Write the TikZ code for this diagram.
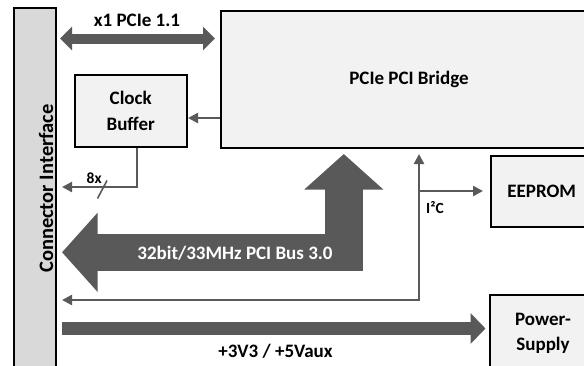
\documentclass[tikz,border=0pt]{standalone}
\usepackage{fontspec}
\setmainfont{Carlito}
\usetikzlibrary{arrows.meta,calc}
\definecolor{arrowgray}{HTML}{595959}
\definecolor{boxfill}{HTML}{F2F2F2}
\definecolor{barfill}{HTML}{D9D9D9}
\begin{document}
\begin{tikzpicture}[x=1pt,y=-1pt,
  every node/.style={font=\bfseries\fontsize{19}{23}\selectfont, inner sep=0pt},
  blockbox/.style={draw=black, line width=2pt, fill=boxfill, align=center},
  barbox/.style={draw=black, line width=2pt, fill=barfill},
  smalllabel/.style={font=\bfseries\fontsize{15.5}{18}\selectfont},
  thinarrow/.style={draw=arrowgray, line width=2.2pt, {Triangle[length=10pt,width=10pt]}-{Triangle[length=10pt,width=10pt]}},
  onearrow/.style={draw=arrowgray, line width=2.2pt, -{Triangle[length=10pt,width=10pt]}},
  pciearrow/.style={draw=arrowgray, line width=10pt, {Triangle[length=12pt,width=23pt]}-{Triangle[length=12pt,width=23pt]}},
  busarrow/.style={draw=arrowgray, line width=37.5pt, line join=miter, {Triangle[length=35.5pt,width=77pt]}-{Triangle[length=35.5pt,width=77pt]}},
  pwrarrow/.style={draw=arrowgray, line width=13.5pt, -{Triangle[length=15pt,width=30pt]}}
]
\useasboundingbox (0,0) rectangle (584,365);
\clip (0,0) rectangle (584,365);

% blocks
\node[barbox, minimum width=42pt, minimum height=364pt] (bar) at (35,190) {};
\node[font=\bfseries\fontsize{20.5}{24}\selectfont, rotate=90, anchor=base] (bartext) at (53,188.5) {Connector Interface};
\node[blockbox, minimum width=377pt, minimum height=137.3pt] (bridge) at (409,79.35) {PCIe PCI Bridge};
\node[blockbox, minimum width=112.5pt, minimum height=72pt, font=\bfseries\fontsize{19}{26.5}\selectfont] (clock) at (130.75,111) {Clock\\Buffer};
\node[blockbox, minimum width=102.5pt, minimum height=71.5pt] (eeprom) at (541.75,191.25) {EEPROM};
\node[blockbox, minimum width=107pt, minimum height=77.5pt, font=\bfseries\fontsize{19}{25}\selectfont] (power) at (543,333.25) {Power-\\Supply};

% PCIe link
\draw[pciearrow] ($(bar.east |- 0,38.5)+(3,0)$) -- ($(bridge.west |- 0,38.5)+(-4.5,0)$);
\node[anchor=base] (pcielabel) at (137,26) {x1 PCIe 1.1};

% clock
\draw[onearrow] (bridge.west |- 0,118) -- (clock.east |- 0,118);
\draw[onearrow] ($(clock.south)+(6.25,0)$) -- ($(clock.south)+(6.25,39)$) -- ($(bar.east |- 0,187)+(5,0)$);
\draw[arrowgray, line width=1.6pt] (97.5,198.5) -- (107,180.5);
\node[smalllabel, anchor=base] (eightx) at (94.2,183.3) {8x};

% PCI bus
\draw[busarrow] ($(bridge.south -| 343.8,0)+(0,5)$) -- (343.8,252.3) -- ($(bar.east |- 0,252.3)+(5,0)$);
\node[anchor=base, text=white] (buslabel) at (235,259) {32bit/33MHz PCI Bus 3.0};

% I2C
\coordinate (i2cj) at (419,300);
\draw[thinarrow] ($(bridge.south -| i2cj)+(0,5)$) -- (i2cj) -- ($(bar.east |- i2cj)+(5,0)$);
\draw[onearrow] (i2cj |- 0,191) -- ($(eeprom.west |- 0,191)+(-6.5,0)$);
\node[smalllabel, anchor=base] (i2clabel) at (435,213) {I²C};

% power
\draw[pwrarrow] ($(bar.east |- 0,328.5)+(5,0)$) -- ($(power.west |- 0,328.5)+(-3,0)$);
\node[anchor=base] (pwrlabel) at (275.5,357.5) {+3V3 / +5Vaux};
\end{tikzpicture}
\end{document}
